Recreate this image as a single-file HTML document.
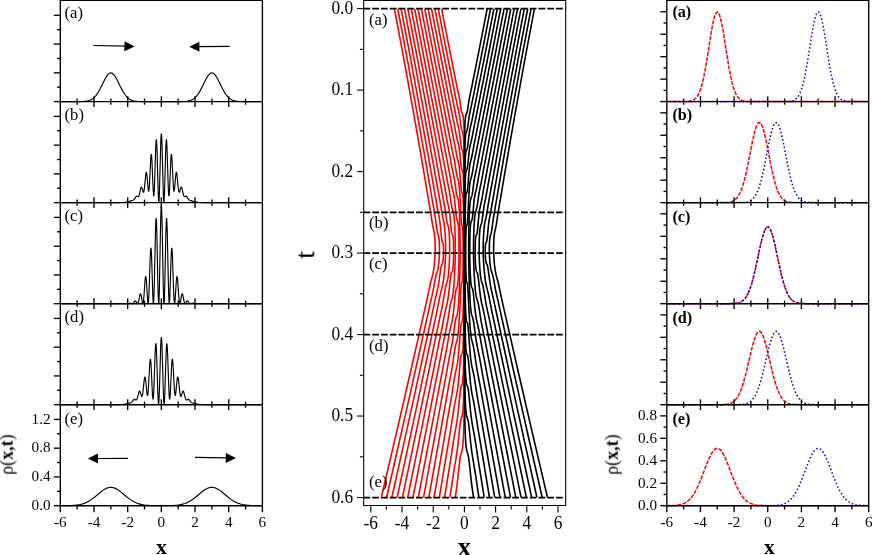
<!DOCTYPE html>
<html><head><meta charset="utf-8"><title>figure</title>
<style>html,body{margin:0;padding:0;background:#fff;}body{width:872px;height:555px;overflow:hidden;font-family:"Liberation Serif",serif;}svg{display:block;}</style>
</head><body>
<svg width="872" height="555" viewBox="0 0 872 555">
<rect width="872" height="555" fill="#fff"/>
<g clip-path="url(#cl)">
<path d="M60.3,101.6L78.24,101.58L81.52,101.53L83.96,101.42L86.32,101.18L88.26,100.81L89.94,100.28L91.54,99.52L93.14,98.44L94.66,97.06L96.09,95.4L97.52,93.37L98.78,91.28L100.05,88.96L105.01,78.99L106.11,77.08L107.04,75.68L108.05,74.44L108.97,73.6L109.9,73.09L110.4,72.95L110.82,72.92L111.33,72.97L111.84,73.12L112.34,73.38L112.93,73.8L114.02,74.91L115.12,76.41L116.05,77.93L117.14,79.95L120.93,87.64L122.61,90.83L124.38,93.75L126.07,96.03L126.99,97.06L127.92,97.95L128.85,98.69L129.86,99.37L130.87,99.91L131.96,100.37L133.14,100.74L134.4,101.03L135.92,101.26L137.6,101.42L142.32,101.57L180.38,101.57L184.09,101.48L186.7,101.27L188.89,100.91L190.74,100.37L192.51,99.56L193.35,99.05L194.19,98.44L195.71,97.06L197.22,95.29L198.74,93.1L200.34,90.38L201.85,87.47L205.56,79.95L206.65,77.93L207.58,76.41L208.68,74.91L209.77,73.8L210.36,73.38L210.86,73.12L211.37,72.97L211.88,72.92L212.3,72.95L212.8,73.09L213.73,73.6L214.65,74.44L215.66,75.68L216.59,77.08L217.69,78.99L222.65,88.96L223.92,91.28L225.18,93.37L226.61,95.4L228.04,97.06L229.56,98.44L231.16,99.52L232.76,100.28L234.44,100.81L236.38,101.18L238.74,101.42L241.18,101.53L244.46,101.58L262.4,101.6" fill="none" stroke="#000" stroke-width="1.15" stroke-linejoin="round" />
</g>
<g clip-path="url(#cl)">
<path d="M60.3,202.65L113.69,202.65L118.66,202.62L122.19,202.53L124.47,202.38L128.34,201.87L129.35,201.56L131.37,200.61L132.89,200.27L133.39,200.07L133.81,199.77L134.23,199.32L135.67,197.04L136.26,196.36L136.59,196.18L136.93,196.17L137.77,196.54L138.11,196.61L138.45,196.48L138.7,196.17L139.03,195.46L139.37,194.37L140.72,188.43L141.06,187.46L141.31,187.09L141.48,187.04L141.65,187.15L141.98,187.82L142.91,191.22L143.16,191.94L143.33,192.21L143.5,192.28L143.75,191.94L144.09,190.54L144.42,188.08L145.69,175L146.02,172.86L146.28,172.23L146.36,172.23L146.45,172.34L146.61,172.87L146.95,175.15L148.21,189.46L148.38,190.57L148.55,191.18L148.63,191.28L148.72,191.23L148.8,191.03L148.97,190.16L149.14,188.67L149.48,183.96L150.74,158.7L151.08,155.09L151.25,154.44L151.33,154.43L151.5,155.05L151.67,156.53L152,161.84L152.93,184.75L153.27,191.66L153.52,194.86L153.69,195.79L153.77,195.87L153.86,195.67L154.02,194.46L154.36,188.89L154.7,179.81L155.71,147.42L156.04,141.21L156.21,139.83L156.3,139.62L156.38,139.73L156.55,140.93L156.89,147.06L157.22,157.28L158.15,191.05L158.49,198.91L158.66,200.99L158.74,201.51L158.82,201.68L158.91,201.49L159.08,200.03L159.41,193.05L160.68,145.17L161.01,136.82L161.18,134.61L161.27,134.05L161.35,133.86L161.43,134.05L161.52,134.61L161.69,136.82L162.02,145.17L163.29,193.05L163.62,200.03L163.79,201.49L163.88,201.68L163.96,201.51L164.04,200.99L164.21,198.91L164.55,191.05L165.48,157.28L165.81,147.06L166.15,140.93L166.32,139.73L166.4,139.62L166.49,139.83L166.66,141.21L166.99,147.42L168,179.81L168.34,188.89L168.68,194.46L168.84,195.67L168.93,195.87L169.01,195.79L169.18,194.86L169.43,191.66L169.77,184.75L170.7,161.84L171.03,156.53L171.2,155.05L171.37,154.43L171.45,154.44L171.62,155.09L171.96,158.7L173.22,183.96L173.56,188.67L173.73,190.16L173.9,191.03L173.98,191.23L174.07,191.28L174.15,191.18L174.32,190.57L174.49,189.46L175.75,175.15L176.09,172.87L176.25,172.34L176.34,172.23L176.42,172.23L176.68,172.86L177.01,175L178.28,188.08L178.61,190.54L178.95,191.94L179.2,192.28L179.37,192.21L179.54,191.94L179.79,191.22L180.72,187.82L181.05,187.15L181.22,187.04L181.39,187.09L181.64,187.46L181.98,188.43L183.33,194.37L183.67,195.46L184,196.17L184.25,196.48L184.59,196.61L184.93,196.54L185.77,196.17L186.11,196.18L186.44,196.36L187.03,197.04L188.47,199.32L188.89,199.77L189.31,200.07L189.81,200.27L191.33,200.61L193.35,201.56L194.36,201.87L198.23,202.38L200.51,202.53L204.04,202.62L209.01,202.65L262.4,202.65" fill="none" stroke="#000" stroke-width="1.15" stroke-linejoin="round" />
</g>
<g clip-path="url(#cl)">
<path d="M60.3,303.7L121.77,303.7L124.8,303.61L126.99,303.7L127.92,303.61L129.44,303.2L130.02,303.13L130.61,303.2L131.79,303.62L132.3,303.7L132.72,303.59L133.14,303.3L133.56,302.81L134.66,301.3L134.99,301.03L135.25,300.95L135.5,301L135.83,301.28L136.17,301.76L137.1,303.39L137.35,303.64L137.6,303.69L137.86,303.51L138.02,303.23L138.36,302.31L138.78,300.53L139.79,295.33L140.13,294.18L140.3,293.86L140.47,293.73L140.63,293.8L140.72,293.92L141.06,294.91L141.39,296.6L142.32,302.35L142.57,303.33L142.74,303.65L142.82,303.7L142.99,303.54L143.08,303.33L143.25,302.64L143.58,300.14L144,295.21L145.01,280.86L145.35,277.75L145.52,276.89L145.69,276.55L145.77,276.59L145.94,277.09L146.28,279.74L146.61,284.24L147.54,299.49L147.88,302.89L148.05,303.62L148.13,303.7L148.3,303.26L148.47,301.99L148.8,296.98L149.22,286.71L150.23,256.88L150.57,250.56L150.74,248.83L150.91,248.18L150.99,248.28L151.16,249.33L151.5,254.7L151.83,263.72L152.84,296.28L153.18,302.39L153.35,303.6L153.43,303.69L153.6,302.79L153.69,301.8L154.02,294.34L154.44,278.31L155.46,231.64L155.79,221.96L155.96,219.36L156.13,218.43L156.21,218.61L156.3,219.23L156.47,221.74L156.8,231.46L157.81,280.2L158.15,293.95L158.49,302.13L158.66,303.62L158.74,303.66L158.91,302.31L159.08,299.11L159.41,287.6L160.42,232.51L160.76,217.04L161.1,207.54L161.27,205.56L161.35,205.31L161.43,205.56L161.6,207.54L161.94,217.04L162.28,232.51L163.29,287.6L163.62,299.11L163.79,302.31L163.96,303.66L164.04,303.62L164.21,302.13L164.55,293.95L164.89,280.2L165.9,231.46L166.23,221.74L166.4,219.23L166.49,218.61L166.57,218.43L166.74,219.36L166.91,221.96L167.24,231.64L168.26,278.31L168.68,294.34L169.01,301.8L169.1,302.79L169.27,303.69L169.35,303.6L169.52,302.39L169.86,296.28L170.87,263.72L171.2,254.7L171.54,249.33L171.71,248.28L171.79,248.18L171.96,248.83L172.13,250.56L172.47,256.88L173.48,286.71L173.9,296.98L174.23,301.99L174.4,303.26L174.57,303.7L174.65,303.62L174.82,302.89L175.16,299.49L176.09,284.24L176.42,279.74L176.76,277.09L176.93,276.59L177.01,276.55L177.18,276.89L177.35,277.75L177.69,280.86L178.7,295.21L179.12,300.14L179.45,302.64L179.62,303.33L179.71,303.54L179.88,303.7L179.96,303.65L180.13,303.33L180.38,302.35L181.31,296.6L181.64,294.91L181.98,293.92L182.07,293.8L182.23,293.73L182.4,293.86L182.57,294.18L182.91,295.33L183.92,300.53L184.34,302.31L184.68,303.23L184.84,303.51L185.1,303.69L185.35,303.64L185.6,303.39L186.53,301.76L186.87,301.28L187.2,301L187.45,300.95L187.71,301.03L188.04,301.3L189.14,302.81L189.56,303.3L189.98,303.59L190.4,303.7L190.91,303.62L192.09,303.2L192.68,303.13L193.26,303.2L194.78,303.61L195.71,303.7L197.9,303.61L200.93,303.7L262.4,303.7" fill="none" stroke="#000" stroke-width="1.15" stroke-linejoin="round" />
</g>
<g clip-path="url(#cl)">
<path d="M60.3,404.7L109.98,404.7L119.16,404.6L121.1,404.51L125.39,404.12L126.4,403.88L128.59,403.1L130.7,402.81L131.2,402.57L131.71,402.16L132.21,401.58L133.31,400.08L133.65,399.72L133.98,399.47L134.32,399.36L134.66,399.38L135.67,399.91L136,400.01L136.34,399.93L136.68,399.61L137.01,398.98L137.43,397.78L138.87,392.3L139.2,391.49L139.46,391.18L139.62,391.14L139.79,391.22L140.13,391.76L141.48,396.08L141.65,396.38L141.81,396.5L141.98,396.44L142.07,396.34L142.4,395.36L142.82,392.89L144,381.83L144.34,379.16L144.68,377.47L144.85,377.09L144.93,377.02L145.01,377.05L145.18,377.36L145.52,379.01L145.86,381.85L146.95,393.33L147.29,395.24L147.46,395.56L147.54,395.54L147.71,395.12L147.88,394.2L148.21,390.84L148.63,384.25L149.73,364.02L150.07,360.34L150.23,359.41L150.32,359.2L150.4,359.16L150.57,359.61L150.74,360.77L151.08,365.05L152.17,388.72L152.51,394.87L152.84,398.53L153.01,399.16L153.1,399.15L153.27,398.47L153.43,396.89L153.86,389.34L154.95,357.46L155.29,349.46L155.62,344.67L155.79,343.74L155.88,343.68L155.96,343.88L156.13,345.09L156.47,350.54L156.8,359.4L157.9,394.62L158.23,401.36L158.4,403.2L158.57,403.9L158.66,403.81L158.82,402.74L159.16,397.23L159.58,385.08L160.68,346.88L161.01,339.93L161.18,338.11L161.27,337.65L161.35,337.5L161.43,337.65L161.52,338.11L161.69,339.93L162.02,346.88L163.12,385.08L163.54,397.23L163.88,402.74L164.04,403.81L164.13,403.9L164.3,403.2L164.47,401.36L164.8,394.62L165.9,359.4L166.23,350.54L166.57,345.09L166.74,343.88L166.82,343.68L166.91,343.74L167.08,344.67L167.41,349.46L167.75,357.46L168.84,389.34L169.27,396.89L169.43,398.47L169.6,399.15L169.69,399.16L169.86,398.53L170.19,394.87L170.53,388.72L171.62,365.05L171.96,360.77L172.13,359.61L172.3,359.16L172.38,359.2L172.47,359.41L172.63,360.34L172.97,364.02L174.07,384.25L174.49,390.84L174.82,394.2L174.99,395.12L175.16,395.54L175.24,395.56L175.41,395.24L175.75,393.33L176.84,381.85L177.18,379.01L177.52,377.36L177.69,377.05L177.77,377.02L177.85,377.09L178.02,377.47L178.36,379.16L178.7,381.83L179.88,392.89L180.3,395.36L180.63,396.34L180.72,396.44L180.89,396.5L181.05,396.38L181.22,396.08L182.57,391.76L182.91,391.22L183.08,391.14L183.24,391.18L183.5,391.49L183.83,392.3L185.27,397.78L185.69,398.98L186.02,399.61L186.36,399.93L186.7,400.01L187.03,399.91L188.04,399.38L188.38,399.36L188.72,399.47L189.05,399.72L189.39,400.08L190.49,401.58L190.99,402.16L191.5,402.57L192,402.81L194.11,403.1L196.3,403.88L197.31,404.12L201.6,404.51L203.54,404.6L212.72,404.7L262.4,404.7" fill="none" stroke="#000" stroke-width="1.15" stroke-linejoin="round" />
</g>
<g clip-path="url(#cl)">
<path d="M60.3,505.69L69.39,505.57L72.59,505.43L75.29,505.22L77.82,504.91L80.09,504.5L82.19,503.98L84.22,503.33L85.98,502.61L87.75,501.76L89.52,500.75L91.29,499.61L94.49,497.21L101.31,491.56L102.91,490.38L104.43,489.39L106.11,488.48L107.71,487.84L109.31,487.46L110.82,487.34L112.42,487.47L114.11,487.9L115.79,488.6L117.56,489.59L119.08,490.62L120.68,491.83L126.57,496.73L129.01,498.64L131.54,500.38L134.07,501.85L136.51,502.97L139.12,503.88L141.9,504.58L144.76,505.04L149.98,505.5L156.97,505.68L165.14,505.69L171.2,505.55L174.15,505.4L178.02,505.03L180.3,504.68L182.57,504.16L184.93,503.44L187.03,502.62L189.14,501.58L191.33,500.28L193.18,499.01L195.12,497.54L202.7,491.31L204.38,490.09L205.9,489.14L207.5,488.33L209.01,487.77L210.53,487.43L211.96,487.34L213.47,487.47L214.99,487.84L216.59,488.48L218.27,489.39L219.79,490.38L221.39,491.56L228.21,497.21L231.41,499.61L233.18,500.75L234.95,501.76L236.72,502.61L238.48,503.33L240.51,503.98L242.61,504.5L244.88,504.91L247.41,505.22L250.11,505.43L253.31,505.57L262.4,505.69" fill="none" stroke="#000" stroke-width="1.15" stroke-linejoin="round" />
</g>
<defs><clipPath id="cl"><rect x="60.3" y="0" width="202.1" height="506.7"/></clipPath></defs>
<line x1="60.3" y1="0" x2="60.3" y2="506.38" stroke="#000" stroke-width="1.35" />
<line x1="262.4" y1="0" x2="262.4" y2="506.38" stroke="#000" stroke-width="1.35" />
<line x1="59.7" y1="0.45" x2="263" y2="0.45" stroke="#000" stroke-width="1.15" />
<line x1="60.3" y1="101.6" x2="262.4" y2="101.6" stroke="#000" stroke-width="1.35" />
<line x1="77.14" y1="98.5" x2="77.14" y2="104.7" stroke="#000" stroke-width="1.35" />
<line x1="93.98" y1="96.2" x2="93.98" y2="107" stroke="#000" stroke-width="1.35" />
<line x1="110.82" y1="98.5" x2="110.82" y2="104.7" stroke="#000" stroke-width="1.35" />
<line x1="127.67" y1="96.2" x2="127.67" y2="107" stroke="#000" stroke-width="1.35" />
<line x1="144.51" y1="98.5" x2="144.51" y2="104.7" stroke="#000" stroke-width="1.35" />
<line x1="161.35" y1="96.2" x2="161.35" y2="107" stroke="#000" stroke-width="1.35" />
<line x1="178.19" y1="98.5" x2="178.19" y2="104.7" stroke="#000" stroke-width="1.35" />
<line x1="195.03" y1="96.2" x2="195.03" y2="107" stroke="#000" stroke-width="1.35" />
<line x1="211.88" y1="98.5" x2="211.88" y2="104.7" stroke="#000" stroke-width="1.35" />
<line x1="228.72" y1="96.2" x2="228.72" y2="107" stroke="#000" stroke-width="1.35" />
<line x1="245.56" y1="98.5" x2="245.56" y2="104.7" stroke="#000" stroke-width="1.35" />
<line x1="53.8" y1="101.6" x2="60.3" y2="101.6" stroke="#000" stroke-width="1.35" />
<line x1="53.8" y1="72.84" x2="60.3" y2="72.84" stroke="#000" stroke-width="1.35" />
<line x1="53.8" y1="44.08" x2="60.3" y2="44.08" stroke="#000" stroke-width="1.35" />
<line x1="53.8" y1="15.32" x2="60.3" y2="15.32" stroke="#000" stroke-width="1.35" />
<line x1="57" y1="87.22" x2="60.3" y2="87.22" stroke="#000" stroke-width="1.35" />
<line x1="57" y1="58.46" x2="60.3" y2="58.46" stroke="#000" stroke-width="1.35" />
<line x1="57" y1="29.7" x2="60.3" y2="29.7" stroke="#000" stroke-width="1.35" />
<line x1="60.3" y1="202.65" x2="262.4" y2="202.65" stroke="#000" stroke-width="1.35" />
<line x1="77.14" y1="199.55" x2="77.14" y2="205.75" stroke="#000" stroke-width="1.35" />
<line x1="93.98" y1="197.25" x2="93.98" y2="208.05" stroke="#000" stroke-width="1.35" />
<line x1="110.82" y1="199.55" x2="110.82" y2="205.75" stroke="#000" stroke-width="1.35" />
<line x1="127.67" y1="197.25" x2="127.67" y2="208.05" stroke="#000" stroke-width="1.35" />
<line x1="144.51" y1="199.55" x2="144.51" y2="205.75" stroke="#000" stroke-width="1.35" />
<line x1="161.35" y1="197.25" x2="161.35" y2="208.05" stroke="#000" stroke-width="1.35" />
<line x1="178.19" y1="199.55" x2="178.19" y2="205.75" stroke="#000" stroke-width="1.35" />
<line x1="195.03" y1="197.25" x2="195.03" y2="208.05" stroke="#000" stroke-width="1.35" />
<line x1="211.88" y1="199.55" x2="211.88" y2="205.75" stroke="#000" stroke-width="1.35" />
<line x1="228.72" y1="197.25" x2="228.72" y2="208.05" stroke="#000" stroke-width="1.35" />
<line x1="245.56" y1="199.55" x2="245.56" y2="205.75" stroke="#000" stroke-width="1.35" />
<line x1="53.8" y1="202.65" x2="60.3" y2="202.65" stroke="#000" stroke-width="1.35" />
<line x1="53.8" y1="173.89" x2="60.3" y2="173.89" stroke="#000" stroke-width="1.35" />
<line x1="53.8" y1="145.13" x2="60.3" y2="145.13" stroke="#000" stroke-width="1.35" />
<line x1="53.8" y1="116.37" x2="60.3" y2="116.37" stroke="#000" stroke-width="1.35" />
<line x1="57" y1="188.27" x2="60.3" y2="188.27" stroke="#000" stroke-width="1.35" />
<line x1="57" y1="159.51" x2="60.3" y2="159.51" stroke="#000" stroke-width="1.35" />
<line x1="57" y1="130.75" x2="60.3" y2="130.75" stroke="#000" stroke-width="1.35" />
<line x1="60.3" y1="303.7" x2="262.4" y2="303.7" stroke="#000" stroke-width="1.35" />
<line x1="77.14" y1="300.6" x2="77.14" y2="306.8" stroke="#000" stroke-width="1.35" />
<line x1="93.98" y1="298.3" x2="93.98" y2="309.1" stroke="#000" stroke-width="1.35" />
<line x1="110.82" y1="300.6" x2="110.82" y2="306.8" stroke="#000" stroke-width="1.35" />
<line x1="127.67" y1="298.3" x2="127.67" y2="309.1" stroke="#000" stroke-width="1.35" />
<line x1="144.51" y1="300.6" x2="144.51" y2="306.8" stroke="#000" stroke-width="1.35" />
<line x1="161.35" y1="298.3" x2="161.35" y2="309.1" stroke="#000" stroke-width="1.35" />
<line x1="178.19" y1="300.6" x2="178.19" y2="306.8" stroke="#000" stroke-width="1.35" />
<line x1="195.03" y1="298.3" x2="195.03" y2="309.1" stroke="#000" stroke-width="1.35" />
<line x1="211.88" y1="300.6" x2="211.88" y2="306.8" stroke="#000" stroke-width="1.35" />
<line x1="228.72" y1="298.3" x2="228.72" y2="309.1" stroke="#000" stroke-width="1.35" />
<line x1="245.56" y1="300.6" x2="245.56" y2="306.8" stroke="#000" stroke-width="1.35" />
<line x1="53.8" y1="303.7" x2="60.3" y2="303.7" stroke="#000" stroke-width="1.35" />
<line x1="53.8" y1="274.94" x2="60.3" y2="274.94" stroke="#000" stroke-width="1.35" />
<line x1="53.8" y1="246.18" x2="60.3" y2="246.18" stroke="#000" stroke-width="1.35" />
<line x1="53.8" y1="217.42" x2="60.3" y2="217.42" stroke="#000" stroke-width="1.35" />
<line x1="57" y1="289.32" x2="60.3" y2="289.32" stroke="#000" stroke-width="1.35" />
<line x1="57" y1="260.56" x2="60.3" y2="260.56" stroke="#000" stroke-width="1.35" />
<line x1="57" y1="231.8" x2="60.3" y2="231.8" stroke="#000" stroke-width="1.35" />
<line x1="60.3" y1="404.7" x2="262.4" y2="404.7" stroke="#000" stroke-width="1.35" />
<line x1="77.14" y1="401.6" x2="77.14" y2="407.8" stroke="#000" stroke-width="1.35" />
<line x1="93.98" y1="399.3" x2="93.98" y2="410.1" stroke="#000" stroke-width="1.35" />
<line x1="110.82" y1="401.6" x2="110.82" y2="407.8" stroke="#000" stroke-width="1.35" />
<line x1="127.67" y1="399.3" x2="127.67" y2="410.1" stroke="#000" stroke-width="1.35" />
<line x1="144.51" y1="401.6" x2="144.51" y2="407.8" stroke="#000" stroke-width="1.35" />
<line x1="161.35" y1="399.3" x2="161.35" y2="410.1" stroke="#000" stroke-width="1.35" />
<line x1="178.19" y1="401.6" x2="178.19" y2="407.8" stroke="#000" stroke-width="1.35" />
<line x1="195.03" y1="399.3" x2="195.03" y2="410.1" stroke="#000" stroke-width="1.35" />
<line x1="211.88" y1="401.6" x2="211.88" y2="407.8" stroke="#000" stroke-width="1.35" />
<line x1="228.72" y1="399.3" x2="228.72" y2="410.1" stroke="#000" stroke-width="1.35" />
<line x1="245.56" y1="401.6" x2="245.56" y2="407.8" stroke="#000" stroke-width="1.35" />
<line x1="53.8" y1="404.7" x2="60.3" y2="404.7" stroke="#000" stroke-width="1.35" />
<line x1="53.8" y1="375.94" x2="60.3" y2="375.94" stroke="#000" stroke-width="1.35" />
<line x1="53.8" y1="347.18" x2="60.3" y2="347.18" stroke="#000" stroke-width="1.35" />
<line x1="53.8" y1="318.42" x2="60.3" y2="318.42" stroke="#000" stroke-width="1.35" />
<line x1="57" y1="390.32" x2="60.3" y2="390.32" stroke="#000" stroke-width="1.35" />
<line x1="57" y1="361.56" x2="60.3" y2="361.56" stroke="#000" stroke-width="1.35" />
<line x1="57" y1="332.8" x2="60.3" y2="332.8" stroke="#000" stroke-width="1.35" />
<line x1="60.3" y1="505.7" x2="262.4" y2="505.7" stroke="#000" stroke-width="1.35" />
<line x1="60.3" y1="505.7" x2="60.3" y2="512.2" stroke="#000" stroke-width="1.35" />
<line x1="77.14" y1="505.7" x2="77.14" y2="509.5" stroke="#000" stroke-width="1.35" />
<line x1="93.98" y1="505.7" x2="93.98" y2="512.2" stroke="#000" stroke-width="1.35" />
<line x1="110.82" y1="505.7" x2="110.82" y2="509.5" stroke="#000" stroke-width="1.35" />
<line x1="127.67" y1="505.7" x2="127.67" y2="512.2" stroke="#000" stroke-width="1.35" />
<line x1="144.51" y1="505.7" x2="144.51" y2="509.5" stroke="#000" stroke-width="1.35" />
<line x1="161.35" y1="505.7" x2="161.35" y2="512.2" stroke="#000" stroke-width="1.35" />
<line x1="178.19" y1="505.7" x2="178.19" y2="509.5" stroke="#000" stroke-width="1.35" />
<line x1="195.03" y1="505.7" x2="195.03" y2="512.2" stroke="#000" stroke-width="1.35" />
<line x1="211.88" y1="505.7" x2="211.88" y2="509.5" stroke="#000" stroke-width="1.35" />
<line x1="228.72" y1="505.7" x2="228.72" y2="512.2" stroke="#000" stroke-width="1.35" />
<line x1="245.56" y1="505.7" x2="245.56" y2="509.5" stroke="#000" stroke-width="1.35" />
<line x1="262.4" y1="505.7" x2="262.4" y2="512.2" stroke="#000" stroke-width="1.35" />
<line x1="53.8" y1="505.7" x2="60.3" y2="505.7" stroke="#000" stroke-width="1.35" />
<line x1="53.8" y1="476.94" x2="60.3" y2="476.94" stroke="#000" stroke-width="1.35" />
<line x1="53.8" y1="448.18" x2="60.3" y2="448.18" stroke="#000" stroke-width="1.35" />
<line x1="53.8" y1="419.42" x2="60.3" y2="419.42" stroke="#000" stroke-width="1.35" />
<line x1="57" y1="491.32" x2="60.3" y2="491.32" stroke="#000" stroke-width="1.35" />
<line x1="57" y1="462.56" x2="60.3" y2="462.56" stroke="#000" stroke-width="1.35" />
<line x1="57" y1="433.8" x2="60.3" y2="433.8" stroke="#000" stroke-width="1.35" />
<line x1="93.3" y1="45.5" x2="125.4" y2="46.2" stroke="#000" stroke-width="1.2" />
<polygon points="134.6,46.4 124.29,51.18 124.51,41.18" fill="#000"/>
<line x1="229.7" y1="46.4" x2="198.4" y2="46.71" stroke="#000" stroke-width="1.2" />
<polygon points="189.2,46.8 199.35,41.7 199.45,51.7" fill="#000"/>
<line x1="128" y1="458.4" x2="97" y2="458.48" stroke="#000" stroke-width="1.2" />
<polygon points="87.8,458.5 97.99,453.47 98.01,463.47" fill="#000"/>
<line x1="195" y1="457.3" x2="226.8" y2="457.92" stroke="#000" stroke-width="1.2" />
<polygon points="236,458.1 225.7,462.9 225.9,452.9" fill="#000"/>
<defs><clipPath id="cr"><rect x="666.8" y="0" width="201.9" height="506.7"/></clipPath></defs>
<g clip-path="url(#cr)">
<path d="M666.8,101.6L684.72,101.55L688,101.39L690.44,101.05L691.7,100.72L692.79,100.3L693.8,99.77L694.73,99.13L695.57,98.39L696.41,97.46L697.25,96.32L698.01,95.09L698.85,93.46L699.61,91.72L700.37,89.71L701.12,87.42L702.55,82.22L703.98,75.88L705.25,69.37L706.51,62.1L710.29,38.11L711.47,30.98L712.56,25L713.49,20.63L714.5,16.75L715,15.2L715.42,14.14L715.93,13.14L716.35,12.54L716.85,12.11L717.27,12L717.78,12.16L718.28,12.64L718.79,13.44L719.38,14.75L719.88,16.2L720.47,18.24L721.57,22.92L722.49,27.67L723.58,33.96L727.37,57.99L729.05,67.97L730.82,77.08L731.66,80.83L732.5,84.18L733.43,87.42L734.35,90.18L735.28,92.52L736.29,94.63L737.3,96.32L738.39,97.76L739.57,98.92L740.83,99.82L741.67,100.26L742.6,100.63L743.61,100.93L744.7,101.16L747.31,101.45L751.01,101.57L868.7,101.6" fill="none" stroke="#ff0000" stroke-width="1.5" stroke-linejoin="round" stroke-dasharray="4 1.3"/>
<path d="M666.8,101.6L784.49,101.57L788.19,101.45L790.8,101.16L791.89,100.93L792.9,100.63L793.83,100.26L794.67,99.82L795.93,98.92L797.11,97.76L798.2,96.32L799.21,94.63L800.22,92.52L801.15,90.18L802.07,87.42L803,84.18L803.84,80.83L804.68,77.08L806.45,67.97L808.13,57.99L811.92,33.96L813.01,27.67L813.93,22.92L815.03,18.24L815.62,16.2L816.12,14.75L816.71,13.44L817.22,12.64L817.72,12.16L818.23,12L818.65,12.11L819.15,12.54L819.57,13.14L820.08,14.14L820.5,15.2L821,16.75L822.01,20.63L822.94,25L824.03,30.98L825.21,38.11L828.99,62.1L830.25,69.37L831.52,75.88L832.95,82.22L834.38,87.42L835.13,89.71L835.89,91.72L836.65,93.46L837.49,95.09L838.25,96.32L839.09,97.46L839.93,98.39L840.77,99.13L841.7,99.77L842.71,100.3L843.8,100.72L845.06,101.05L847.5,101.39L850.78,101.55L868.7,101.6" fill="none" stroke="#0000ff" stroke-width="1.5" stroke-linejoin="round" stroke-dasharray="1.6 2.2"/>
<path d="M666.8,202.65L717.7,202.65L725.44,202.53L728.8,202.24L730.15,202L731.41,201.67L732.59,201.25L733.6,200.76L734.52,200.18L735.45,199.47L736.54,198.4L737.55,197.17L738.47,195.8L739.4,194.18L740.33,192.26L741.17,190.25L742.01,187.97L742.85,185.41L743.69,182.57L744.62,179.11L746.38,171.61L748.15,163.15L752.27,142.21L753.45,136.77L754.54,132.27L755.8,127.97L756.39,126.34L756.98,124.98L757.57,123.91L758.16,123.13L758.75,122.66L759.34,122.51L759.93,122.66L760.52,123.13L761.1,123.91L761.69,124.98L762.28,126.34L762.87,127.97L764.13,132.27L765.23,136.77L766.4,142.21L770.61,163.57L772.38,171.99L774.23,179.76L775.15,183.16L775.99,185.95L776.92,188.68L777.85,191.09L778.77,193.17L779.7,194.95L780.71,196.58L781.71,197.92L782.81,199.09L783.9,200L784.83,200.61L785.84,201.14L786.85,201.54L788.02,201.88L789.29,202.15L790.72,202.34L794.33,202.57L802.49,202.65L868.7,202.65" fill="none" stroke="#ff0000" stroke-width="1.5" stroke-linejoin="round" stroke-dasharray="4 1.3"/>
<path d="M666.8,202.65L733.01,202.65L741.17,202.57L744.78,202.34L746.21,202.15L747.48,201.88L748.65,201.54L749.66,201.14L750.67,200.61L751.6,200L752.69,199.09L753.79,197.92L754.79,196.58L755.8,194.95L756.73,193.17L757.65,191.09L758.58,188.68L759.51,185.95L760.35,183.16L761.27,179.76L763.12,171.99L764.89,163.57L769.1,142.21L770.27,136.77L771.37,132.27L772.63,127.97L773.22,126.34L773.81,124.98L774.4,123.91L774.98,123.13L775.57,122.66L776.16,122.51L776.75,122.66L777.34,123.13L777.93,123.91L778.52,124.98L779.11,126.34L779.7,127.97L780.96,132.27L782.05,136.77L783.23,142.21L787.35,163.15L789.12,171.61L790.88,179.11L791.81,182.57L792.65,185.41L793.49,187.97L794.33,190.25L795.17,192.26L796.1,194.18L797.03,195.8L797.95,197.17L798.96,198.4L800.05,199.47L800.98,200.18L801.9,200.76L802.91,201.25L804.09,201.67L805.35,202L806.7,202.24L810.06,202.53L817.8,202.65L868.7,202.65" fill="none" stroke="#0000ff" stroke-width="1.5" stroke-linejoin="round" stroke-dasharray="1.6 2.2"/>
<path d="M666.8,303.7L723.84,303.7L732.08,303.6L735.7,303.33L737.13,303.11L738.39,302.83L739.57,302.46L740.66,302L741.67,301.46L742.68,300.76L743.77,299.82L744.87,298.64L745.88,297.3L746.8,295.84L747.73,294.13L748.65,292.14L749.58,289.88L750.5,287.31L751.43,284.44L752.36,281.27L754.21,274.07L756.06,265.94L760.43,245.53L761.69,240.2L762.79,236.1L764.05,232.15L764.72,230.44L765.31,229.21L765.98,228.1L766.57,227.42L767.16,227L767.75,226.87L768.34,227L768.93,227.42L769.52,228.1L770.19,229.21L770.78,230.44L771.45,232.15L772.71,236.1L773.81,240.2L775.07,245.53L779.44,265.94L781.29,274.07L783.14,281.27L784.07,284.44L785,287.31L785.92,289.88L786.85,292.14L787.77,294.13L788.7,295.84L789.62,297.3L790.63,298.64L791.73,299.82L792.82,300.76L793.83,301.46L794.84,302L795.93,302.46L797.11,302.83L798.37,303.11L799.8,303.33L803.42,303.6L811.66,303.7L868.7,303.7" fill="none" stroke="#ff0000" stroke-width="1.5" stroke-linejoin="round" stroke-dasharray="4 1.3"/>
<path d="M666.8,303.7L723.84,303.7L732.08,303.6L735.7,303.33L737.13,303.11L738.39,302.83L739.57,302.46L740.66,302L741.67,301.46L742.68,300.76L743.77,299.82L744.87,298.64L745.88,297.3L746.8,295.84L747.73,294.13L748.65,292.14L749.58,289.88L750.5,287.31L751.43,284.44L752.36,281.27L754.21,274.07L756.06,265.94L760.43,245.53L761.69,240.2L762.79,236.1L764.05,232.15L764.72,230.44L765.31,229.21L765.98,228.1L766.57,227.42L767.16,227L767.75,226.87L768.34,227L768.93,227.42L769.52,228.1L770.19,229.21L770.78,230.44L771.45,232.15L772.71,236.1L773.81,240.2L775.07,245.53L779.44,265.94L781.29,274.07L783.14,281.27L784.07,284.44L785,287.31L785.92,289.88L786.85,292.14L787.77,294.13L788.7,295.84L789.62,297.3L790.63,298.64L791.73,299.82L792.82,300.76L793.83,301.46L794.84,302L795.93,302.46L797.11,302.83L798.37,303.11L799.8,303.33L803.42,303.6L811.66,303.7L868.7,303.7" fill="none" stroke="#0000ff" stroke-width="1.5" stroke-linejoin="round" stroke-dasharray="1.6 2.2"/>
<path d="M666.8,404.7L714.75,404.69L719.71,404.66L723,404.56L726.53,404.25L727.96,404.01L729.3,403.68L730.57,403.25L731.66,402.76L732.67,402.18L733.68,401.46L734.77,400.5L735.78,399.41L736.79,398.11L737.8,396.56L738.73,394.91L739.65,393.01L740.58,390.86L741.5,388.45L742.43,385.78L743.35,382.84L745.2,376.23L747.14,368.45L751.68,349.1L752.94,344.23L754.12,340.18L755.47,336.33L756.14,334.77L756.81,333.48L757.49,332.48L758.08,331.85L758.75,331.42L759.34,331.29L759.93,331.42L760.6,331.85L761.19,332.48L761.86,333.48L762.53,334.77L763.21,336.33L764.55,340.18L765.73,344.23L766.99,349.1L771.62,368.8L773.55,376.55L775.49,383.39L776.5,386.54L777.42,389.14L778.35,391.48L779.36,393.73L780.28,395.53L781.29,397.24L782.3,398.68L783.4,399.98L784.58,401.12L785.75,402.02L786.76,402.63L787.86,403.15L788.95,403.55L790.21,403.9L791.56,404.17L793.07,404.37L796.94,404.61L805.61,404.7L868.7,404.7" fill="none" stroke="#ff0000" stroke-width="1.5" stroke-linejoin="round" stroke-dasharray="4 1.3"/>
<path d="M666.8,404.7L729.89,404.7L738.56,404.61L742.43,404.37L743.94,404.17L745.29,403.9L746.55,403.55L747.64,403.15L748.74,402.63L749.75,402.02L750.92,401.12L752.1,399.98L753.2,398.68L754.21,397.24L755.22,395.53L756.14,393.73L757.15,391.48L758.08,389.14L759,386.54L760.01,383.39L761.95,376.55L763.88,368.8L768.51,349.1L769.77,344.23L770.95,340.18L772.29,336.33L772.97,334.77L773.64,333.48L774.31,332.48L774.9,331.85L775.57,331.42L776.16,331.29L776.75,331.42L777.42,331.85L778.01,332.48L778.69,333.48L779.36,334.77L780.03,336.33L781.38,340.18L782.56,344.23L783.82,349.1L788.36,368.45L790.3,376.23L792.15,382.84L793.07,385.78L794,388.45L794.92,390.86L795.85,393.01L796.77,394.91L797.7,396.56L798.71,398.11L799.72,399.41L800.73,400.5L801.82,401.46L802.83,402.18L803.84,402.76L804.93,403.25L806.2,403.68L807.54,404.01L808.97,404.25L812.5,404.56L815.79,404.66L820.75,404.69L868.7,404.7" fill="none" stroke="#0000ff" stroke-width="1.5" stroke-linejoin="round" stroke-dasharray="1.6 2.2"/>
<path d="M666.8,505.66L672.02,505.55L675.89,505.3L679.08,504.86L681.77,504.21L683.04,503.77L684.3,503.24L685.48,502.63L686.57,501.96L687.66,501.17L688.67,500.33L689.68,499.37L690.69,498.29L692.46,496.06L694.22,493.38L695.99,490.25L697.76,486.66L699.27,483.26L700.95,479.17L706.09,465.78L707.77,461.54L709.37,457.84L710.88,454.74L711.72,453.24L712.56,451.91L713.41,450.77L714.16,449.92L715,449.19L715.76,448.72L716.52,448.43L717.27,448.34L718.03,448.43L718.87,448.76L719.71,449.32L720.56,450.1L721.4,451.09L722.24,452.29L723.08,453.67L724,455.39L725.52,458.59L727.12,462.37L733.01,477.68L735.45,483.65L736.79,486.66L738.05,489.27L739.32,491.65L740.49,493.66L741.76,495.58L743.02,497.28L744.28,498.76L745.63,500.1L747.06,501.3L748.49,502.28L750,503.12L751.6,503.81L752.86,504.23L754.29,504.61L755.8,504.92L757.4,505.16L761.1,505.48L766.15,505.64L777.51,505.7L868.7,505.7" fill="none" stroke="#ff0000" stroke-width="1.5" stroke-linejoin="round" stroke-dasharray="4 1.3"/>
<path d="M666.8,505.7L757.99,505.7L769.35,505.64L774.4,505.48L778.1,505.16L779.7,504.92L781.21,504.61L782.64,504.23L783.9,503.81L785.5,503.12L787.01,502.28L788.44,501.3L789.87,500.1L791.22,498.76L792.48,497.28L793.74,495.58L795.01,493.66L796.18,491.65L797.45,489.27L798.71,486.66L800.05,483.65L802.49,477.68L808.38,462.37L809.98,458.59L811.5,455.39L812.42,453.67L813.26,452.29L814.1,451.09L814.94,450.1L815.79,449.32L816.63,448.76L817.47,448.43L818.23,448.34L818.98,448.43L819.74,448.72L820.5,449.19L821.34,449.92L822.09,450.77L822.94,451.91L823.78,453.24L824.62,454.74L826.13,457.84L827.73,461.54L829.41,465.78L834.55,479.17L836.23,483.26L837.74,486.66L839.51,490.25L841.28,493.38L843.04,496.06L844.81,498.29L845.82,499.37L846.83,500.33L847.84,501.17L848.93,501.96L850.02,502.63L851.2,503.24L852.46,503.77L853.73,504.21L856.42,504.86L859.61,505.3L863.48,505.55L868.7,505.66" fill="none" stroke="#0000ff" stroke-width="1.5" stroke-linejoin="round" stroke-dasharray="1.6 2.2"/>
</g>
<line x1="666.8" y1="0" x2="666.8" y2="506.38" stroke="#000" stroke-width="1.35" />
<line x1="868.7" y1="0" x2="868.7" y2="506.38" stroke="#000" stroke-width="1.35" />
<line x1="666.2" y1="0.45" x2="869.3" y2="0.45" stroke="#000" stroke-width="1.15" />
<line x1="666.8" y1="101.6" x2="868.7" y2="101.6" stroke="#000" stroke-width="1.35" />
<line x1="683.62" y1="98.5" x2="683.62" y2="104.7" stroke="#000" stroke-width="1.35" />
<line x1="700.45" y1="96.2" x2="700.45" y2="107" stroke="#000" stroke-width="1.35" />
<line x1="717.27" y1="98.5" x2="717.27" y2="104.7" stroke="#000" stroke-width="1.35" />
<line x1="734.1" y1="96.2" x2="734.1" y2="107" stroke="#000" stroke-width="1.35" />
<line x1="750.92" y1="98.5" x2="750.92" y2="104.7" stroke="#000" stroke-width="1.35" />
<line x1="767.75" y1="96.2" x2="767.75" y2="107" stroke="#000" stroke-width="1.35" />
<line x1="784.58" y1="98.5" x2="784.58" y2="104.7" stroke="#000" stroke-width="1.35" />
<line x1="801.4" y1="96.2" x2="801.4" y2="107" stroke="#000" stroke-width="1.35" />
<line x1="818.23" y1="98.5" x2="818.23" y2="104.7" stroke="#000" stroke-width="1.35" />
<line x1="835.05" y1="96.2" x2="835.05" y2="107" stroke="#000" stroke-width="1.35" />
<line x1="851.88" y1="98.5" x2="851.88" y2="104.7" stroke="#000" stroke-width="1.35" />
<line x1="660.3" y1="101.6" x2="666.8" y2="101.6" stroke="#000" stroke-width="1.35" />
<line x1="660.3" y1="79.14" x2="666.8" y2="79.14" stroke="#000" stroke-width="1.35" />
<line x1="660.3" y1="56.68" x2="666.8" y2="56.68" stroke="#000" stroke-width="1.35" />
<line x1="660.3" y1="34.22" x2="666.8" y2="34.22" stroke="#000" stroke-width="1.35" />
<line x1="660.3" y1="11.76" x2="666.8" y2="11.76" stroke="#000" stroke-width="1.35" />
<line x1="663.5" y1="90.37" x2="666.8" y2="90.37" stroke="#000" stroke-width="1.35" />
<line x1="663.5" y1="67.91" x2="666.8" y2="67.91" stroke="#000" stroke-width="1.35" />
<line x1="663.5" y1="45.45" x2="666.8" y2="45.45" stroke="#000" stroke-width="1.35" />
<line x1="663.5" y1="22.99" x2="666.8" y2="22.99" stroke="#000" stroke-width="1.35" />
<line x1="666.8" y1="202.65" x2="868.7" y2="202.65" stroke="#000" stroke-width="1.35" />
<line x1="683.62" y1="199.55" x2="683.62" y2="205.75" stroke="#000" stroke-width="1.35" />
<line x1="700.45" y1="197.25" x2="700.45" y2="208.05" stroke="#000" stroke-width="1.35" />
<line x1="717.27" y1="199.55" x2="717.27" y2="205.75" stroke="#000" stroke-width="1.35" />
<line x1="734.1" y1="197.25" x2="734.1" y2="208.05" stroke="#000" stroke-width="1.35" />
<line x1="750.92" y1="199.55" x2="750.92" y2="205.75" stroke="#000" stroke-width="1.35" />
<line x1="767.75" y1="197.25" x2="767.75" y2="208.05" stroke="#000" stroke-width="1.35" />
<line x1="784.58" y1="199.55" x2="784.58" y2="205.75" stroke="#000" stroke-width="1.35" />
<line x1="801.4" y1="197.25" x2="801.4" y2="208.05" stroke="#000" stroke-width="1.35" />
<line x1="818.23" y1="199.55" x2="818.23" y2="205.75" stroke="#000" stroke-width="1.35" />
<line x1="835.05" y1="197.25" x2="835.05" y2="208.05" stroke="#000" stroke-width="1.35" />
<line x1="851.88" y1="199.55" x2="851.88" y2="205.75" stroke="#000" stroke-width="1.35" />
<line x1="660.3" y1="202.65" x2="666.8" y2="202.65" stroke="#000" stroke-width="1.35" />
<line x1="660.3" y1="180.19" x2="666.8" y2="180.19" stroke="#000" stroke-width="1.35" />
<line x1="660.3" y1="157.73" x2="666.8" y2="157.73" stroke="#000" stroke-width="1.35" />
<line x1="660.3" y1="135.27" x2="666.8" y2="135.27" stroke="#000" stroke-width="1.35" />
<line x1="660.3" y1="112.81" x2="666.8" y2="112.81" stroke="#000" stroke-width="1.35" />
<line x1="663.5" y1="191.42" x2="666.8" y2="191.42" stroke="#000" stroke-width="1.35" />
<line x1="663.5" y1="168.96" x2="666.8" y2="168.96" stroke="#000" stroke-width="1.35" />
<line x1="663.5" y1="146.5" x2="666.8" y2="146.5" stroke="#000" stroke-width="1.35" />
<line x1="663.5" y1="124.04" x2="666.8" y2="124.04" stroke="#000" stroke-width="1.35" />
<line x1="666.8" y1="303.7" x2="868.7" y2="303.7" stroke="#000" stroke-width="1.35" />
<line x1="683.62" y1="300.6" x2="683.62" y2="306.8" stroke="#000" stroke-width="1.35" />
<line x1="700.45" y1="298.3" x2="700.45" y2="309.1" stroke="#000" stroke-width="1.35" />
<line x1="717.27" y1="300.6" x2="717.27" y2="306.8" stroke="#000" stroke-width="1.35" />
<line x1="734.1" y1="298.3" x2="734.1" y2="309.1" stroke="#000" stroke-width="1.35" />
<line x1="750.92" y1="300.6" x2="750.92" y2="306.8" stroke="#000" stroke-width="1.35" />
<line x1="767.75" y1="298.3" x2="767.75" y2="309.1" stroke="#000" stroke-width="1.35" />
<line x1="784.58" y1="300.6" x2="784.58" y2="306.8" stroke="#000" stroke-width="1.35" />
<line x1="801.4" y1="298.3" x2="801.4" y2="309.1" stroke="#000" stroke-width="1.35" />
<line x1="818.23" y1="300.6" x2="818.23" y2="306.8" stroke="#000" stroke-width="1.35" />
<line x1="835.05" y1="298.3" x2="835.05" y2="309.1" stroke="#000" stroke-width="1.35" />
<line x1="851.88" y1="300.6" x2="851.88" y2="306.8" stroke="#000" stroke-width="1.35" />
<line x1="660.3" y1="303.7" x2="666.8" y2="303.7" stroke="#000" stroke-width="1.35" />
<line x1="660.3" y1="281.24" x2="666.8" y2="281.24" stroke="#000" stroke-width="1.35" />
<line x1="660.3" y1="258.78" x2="666.8" y2="258.78" stroke="#000" stroke-width="1.35" />
<line x1="660.3" y1="236.32" x2="666.8" y2="236.32" stroke="#000" stroke-width="1.35" />
<line x1="660.3" y1="213.86" x2="666.8" y2="213.86" stroke="#000" stroke-width="1.35" />
<line x1="663.5" y1="292.47" x2="666.8" y2="292.47" stroke="#000" stroke-width="1.35" />
<line x1="663.5" y1="270.01" x2="666.8" y2="270.01" stroke="#000" stroke-width="1.35" />
<line x1="663.5" y1="247.55" x2="666.8" y2="247.55" stroke="#000" stroke-width="1.35" />
<line x1="663.5" y1="225.09" x2="666.8" y2="225.09" stroke="#000" stroke-width="1.35" />
<line x1="666.8" y1="404.7" x2="868.7" y2="404.7" stroke="#000" stroke-width="1.35" />
<line x1="683.62" y1="401.6" x2="683.62" y2="407.8" stroke="#000" stroke-width="1.35" />
<line x1="700.45" y1="399.3" x2="700.45" y2="410.1" stroke="#000" stroke-width="1.35" />
<line x1="717.27" y1="401.6" x2="717.27" y2="407.8" stroke="#000" stroke-width="1.35" />
<line x1="734.1" y1="399.3" x2="734.1" y2="410.1" stroke="#000" stroke-width="1.35" />
<line x1="750.92" y1="401.6" x2="750.92" y2="407.8" stroke="#000" stroke-width="1.35" />
<line x1="767.75" y1="399.3" x2="767.75" y2="410.1" stroke="#000" stroke-width="1.35" />
<line x1="784.58" y1="401.6" x2="784.58" y2="407.8" stroke="#000" stroke-width="1.35" />
<line x1="801.4" y1="399.3" x2="801.4" y2="410.1" stroke="#000" stroke-width="1.35" />
<line x1="818.23" y1="401.6" x2="818.23" y2="407.8" stroke="#000" stroke-width="1.35" />
<line x1="835.05" y1="399.3" x2="835.05" y2="410.1" stroke="#000" stroke-width="1.35" />
<line x1="851.88" y1="401.6" x2="851.88" y2="407.8" stroke="#000" stroke-width="1.35" />
<line x1="660.3" y1="404.7" x2="666.8" y2="404.7" stroke="#000" stroke-width="1.35" />
<line x1="660.3" y1="382.24" x2="666.8" y2="382.24" stroke="#000" stroke-width="1.35" />
<line x1="660.3" y1="359.78" x2="666.8" y2="359.78" stroke="#000" stroke-width="1.35" />
<line x1="660.3" y1="337.32" x2="666.8" y2="337.32" stroke="#000" stroke-width="1.35" />
<line x1="660.3" y1="314.86" x2="666.8" y2="314.86" stroke="#000" stroke-width="1.35" />
<line x1="663.5" y1="393.47" x2="666.8" y2="393.47" stroke="#000" stroke-width="1.35" />
<line x1="663.5" y1="371.01" x2="666.8" y2="371.01" stroke="#000" stroke-width="1.35" />
<line x1="663.5" y1="348.55" x2="666.8" y2="348.55" stroke="#000" stroke-width="1.35" />
<line x1="663.5" y1="326.09" x2="666.8" y2="326.09" stroke="#000" stroke-width="1.35" />
<line x1="666.8" y1="505.7" x2="868.7" y2="505.7" stroke="#000" stroke-width="1.35" />
<line x1="666.8" y1="505.7" x2="666.8" y2="512.2" stroke="#000" stroke-width="1.35" />
<line x1="683.62" y1="505.7" x2="683.62" y2="509.5" stroke="#000" stroke-width="1.35" />
<line x1="700.45" y1="505.7" x2="700.45" y2="512.2" stroke="#000" stroke-width="1.35" />
<line x1="717.27" y1="505.7" x2="717.27" y2="509.5" stroke="#000" stroke-width="1.35" />
<line x1="734.1" y1="505.7" x2="734.1" y2="512.2" stroke="#000" stroke-width="1.35" />
<line x1="750.92" y1="505.7" x2="750.92" y2="509.5" stroke="#000" stroke-width="1.35" />
<line x1="767.75" y1="505.7" x2="767.75" y2="512.2" stroke="#000" stroke-width="1.35" />
<line x1="784.58" y1="505.7" x2="784.58" y2="509.5" stroke="#000" stroke-width="1.35" />
<line x1="801.4" y1="505.7" x2="801.4" y2="512.2" stroke="#000" stroke-width="1.35" />
<line x1="818.23" y1="505.7" x2="818.23" y2="509.5" stroke="#000" stroke-width="1.35" />
<line x1="835.05" y1="505.7" x2="835.05" y2="512.2" stroke="#000" stroke-width="1.35" />
<line x1="851.88" y1="505.7" x2="851.88" y2="509.5" stroke="#000" stroke-width="1.35" />
<line x1="868.7" y1="505.7" x2="868.7" y2="512.2" stroke="#000" stroke-width="1.35" />
<line x1="660.3" y1="505.7" x2="666.8" y2="505.7" stroke="#000" stroke-width="1.35" />
<line x1="660.3" y1="483.24" x2="666.8" y2="483.24" stroke="#000" stroke-width="1.35" />
<line x1="660.3" y1="460.78" x2="666.8" y2="460.78" stroke="#000" stroke-width="1.35" />
<line x1="660.3" y1="438.32" x2="666.8" y2="438.32" stroke="#000" stroke-width="1.35" />
<line x1="660.3" y1="415.86" x2="666.8" y2="415.86" stroke="#000" stroke-width="1.35" />
<line x1="663.5" y1="494.47" x2="666.8" y2="494.47" stroke="#000" stroke-width="1.35" />
<line x1="663.5" y1="472.01" x2="666.8" y2="472.01" stroke="#000" stroke-width="1.35" />
<line x1="663.5" y1="449.55" x2="666.8" y2="449.55" stroke="#000" stroke-width="1.35" />
<line x1="663.5" y1="427.09" x2="666.8" y2="427.09" stroke="#000" stroke-width="1.35" />
<defs><clipPath id="cm"><rect x="363.7" y="8.6" width="202" height="488.94"/></clipPath></defs>
<g clip-path="url(#cm)">
<path d="M441.62,8.6L446.51,33.86L451.64,59.94L456.85,86.02L459.11,96.61L459.83,100.68L461.31,110.46L461.67,112.09L461.93,112.91L462.68,114.54L463.11,116.17L463.44,118.61L463.65,121.06L463.88,125.13L464.05,130.02L464.27,144.69L464.37,169.14L464.38,337.82L464.24,393.23L464.09,410.35L463.84,424.2L463.63,431.53L463.35,438.05L463.04,442.94L462.64,447.02L462.11,450.28L461.66,451.91L460.85,454.35L460.47,455.98L460.07,458.42L459.45,463.31L457.96,477.17L457.2,483.69L456.33,490.21L455.23,497.54" fill="none" stroke="#ff0000" stroke-width="1.6" stroke-linejoin="round" />
<path d="M438.25,8.6L444.24,39.57L450.34,70.53L456.85,103.13L459,112.91L459.71,116.98L461.04,126.76L461.46,129.21L461.93,130.83L462.72,132.46L463.1,134.09L463.4,136.54L463.65,139.8L463.84,143.87L464.02,149.58L464.24,165.88L464.34,191.95L464.38,263.66L464.33,328.86L464.24,354.93L464.09,374.49L463.85,389.16L463.51,400.57L463.14,407.9L462.88,411.16L462.61,413.61L462.19,416.05L461.97,416.86L461.04,419.31L460.63,420.94L460.34,422.57L459.71,427.46L457.92,444.57L456.99,451.91L456.13,457.61L453.28,474.72L449.86,497.54" fill="none" stroke="#ff0000" stroke-width="1.6" stroke-linejoin="round" />
<path d="M434.87,8.6L441.64,43.64L448.54,78.68L454.75,109.65L456.81,120.24L458.5,127.58L459.16,130.83L459.89,135.72L460.95,144.69L461.3,147.13L461.64,148.76L461.94,149.58L462.44,150.39L462.76,151.21L462.95,152.02L463.18,153.65L463.41,156.1L463.65,160.17L463.98,170.77L464.2,188.69L464.3,216.4L464.32,270.18L464.23,314.19L464.1,336.19L463.89,353.3L463.57,366.34L463.18,375.3L462.81,380.19L462.36,383.45L462.17,384.27L461.89,385.08L461.14,386.71L460.91,387.53L460.58,389.16L460.34,390.79L459.79,395.68L458.18,411.98L457.6,416.86L457.04,420.94L456.37,425.01L454.7,433.98L453.72,439.68L450.32,461.68L444.58,497.54" fill="none" stroke="#ff0000" stroke-width="1.6" stroke-linejoin="round" />
<path d="M431.5,8.6L441.59,60.75L451.9,112.91L454.56,125.95L456.54,136.54L457.23,139.8L458.46,144.69L458.97,147.13L459.36,149.58L459.78,152.84L460.93,164.25L461.34,167.51L461.7,169.14L462.61,170.77L462.96,172.39L463.15,174.02L463.39,177.28L463.61,182.17L463.91,194.4L464.09,212.32L464.18,237.59L464.17,271L464.05,298.7L463.89,316.63L463.65,330.49L463.31,341.08L462.89,348.41L462.65,350.86L462.39,352.49L462.2,353.3L461.86,354.12L461.36,354.93L461.08,355.75L460.63,358.19L460.1,363.08L458.42,381.82L457.77,387.53L457.18,391.6L456.61,394.86L455.09,402.2L454.2,407.09L450.85,428.27L447.13,450.28L439.31,497.54" fill="none" stroke="#ff0000" stroke-width="1.6" stroke-linejoin="round" />
<path d="M428.12,8.6L435.03,44.46L442.17,81.13L452.13,131.65L454.47,143.06L456.66,155.28L457.21,157.73L458.33,161.8L458.84,164.25L459.31,167.51L459.75,171.58L460.91,186.25L461.33,190.32L461.63,191.95L462.56,193.58L462.85,195.21L463.02,196.84L463.27,200.92L463.45,205.81L463.72,219.66L463.84,234.33L463.88,251.44L463.83,269.37L463.71,284.85L463.54,297.07L463.31,306.85L463.01,314.19L462.65,319.08L462.42,320.71L462.24,321.52L461.31,323.15L460.97,324.78L460.76,326.41L460.31,331.3L459.24,345.97L458.64,353.3L458.05,359.01L457.38,363.9L456.76,367.16L455.41,372.86L454.61,376.93L451.4,397.31L447.77,417.68L434.03,497.54" fill="none" stroke="#ff0000" stroke-width="1.6" stroke-linejoin="round" />
<path d="M424.74,8.6L433.37,53.42L442.08,98.24L452.11,149.58L454.33,160.17L454.91,163.43L456.62,174.02L457.2,176.47L458.21,179.73L458.71,182.17L459.31,187.06L459.81,193.58L460.22,200.92L461,217.21L461.31,222.1L461.59,224.55L461.89,225.36L462.42,226.18L462.69,228.62L462.96,235.14L463.09,244.11L463.12,253.88L463.05,263.66L462.9,271.81L462.68,277.52L462.51,279.96L462.3,281.59L461.97,282.41L461.46,283.22L461.22,284.85L461.07,286.48L460.7,292.19L459.7,311.74L459.12,321.52L458.49,329.67L457.77,336.19L457.38,338.63L457.04,340.26L455.7,345.15L455.02,348.41L454.35,352.49L452.69,363.9L451.75,369.6L448.51,386.71L445.36,404.64L428.76,497.54" fill="none" stroke="#ff0000" stroke-width="1.6" stroke-linejoin="round" />
<path d="M421.37,8.6L436.73,88.46L449.87,156.1L451.98,167.51L454.11,177.28L454.79,181.36L456.08,191.14L456.6,194.4L457,196.03L457.93,198.47L458.16,199.29L458.47,200.92L458.78,203.36L459.07,206.62L459.33,210.7L459.59,216.4L459.96,229.44L460.13,244.11L460.13,253.88L460.02,264.48L459.8,275.07L459.5,284.85L459.13,293.81L458.73,301.15L458.22,307.67L457.73,311.74L457.28,314.19L457.06,315L455.93,318.26L455.39,320.71L454.76,324.78L453.16,337L452.13,343.52L449.14,358.19L445.95,376.12L442.29,395.68L423.49,497.54" fill="none" stroke="#ff0000" stroke-width="1.6" stroke-linejoin="round" />
<path d="M417.99,8.6L447.48,162.62L449.59,173.21L451.86,186.25L452.37,188.69L453.6,193.58L454.08,196.03L454.44,198.47L454.83,201.73L455.96,213.95L456.44,218.03L456.77,219.66L457.1,220.47L457.61,221.29L457.88,222.1L458.17,223.73L458.35,225.36L458.62,229.44L458.84,235.14L458.96,241.66L459.01,249L458.94,258.77L458.75,267.74L458.43,275.89L458.05,281.59L457.68,284.85L457.36,286.48L457.06,287.3L456.56,288.11L456.23,288.93L456.02,289.74L455.73,291.37L455.22,295.44L453.71,310.11L453.21,314.19L452.74,317.45L451.97,321.52L450.57,327.23L449.71,331.3L446.57,349.23L443.37,365.53L418.21,497.54" fill="none" stroke="#ff0000" stroke-width="1.6" stroke-linejoin="round" />
<path d="M414.62,8.6L434.18,111.28L445.14,169.14L447.38,181.36L449.38,191.14L450.07,195.21L451.21,203.36L451.74,206.62L452.31,209.07L453.33,212.32L453.66,213.95L454.01,216.4L454.33,219.66L454.62,223.73L454.87,228.62L455.23,240.03L455.31,250.63L455.25,256.33L455.09,262.85L454.84,269.37L454.47,276.7L454.04,283.22L453.64,288.11L453.2,292.19L452.73,295.44L452.22,297.89L450.96,301.96L450.39,304.41L449.67,308.48L448.04,319.08L447.02,324.78L444.12,338.63L440.68,356.56L412.94,497.54" fill="none" stroke="#ff0000" stroke-width="1.6" stroke-linejoin="round" />
<path d="M411.24,8.6L422.1,65.64L433.14,124.32L442.84,176.47L444.87,187.06L447.09,200.1L447.58,202.55L448.74,207.44L449.21,209.88L449.58,212.32L449.96,215.58L451.14,228.62L451.51,231.88L451.81,233.51L452.07,234.33L452.59,235.14L452.91,235.96L453.08,236.77L453.29,238.4L453.47,240.85L453.6,244.11L453.67,252.26L453.58,257.14L453.4,262.03L453.13,266.11L452.88,268.55L452.63,270.18L452.42,271L452.06,271.81L451.54,272.63L451.26,273.44L450.93,275.07L450.37,279.15L448.69,293.81L448.12,297.89L447.56,301.15L447.05,303.59L445.63,309.3L444.91,312.56L441.53,330.49L438.67,344.34L425.86,407.9L407.67,497.54" fill="none" stroke="#ff0000" stroke-width="1.6" stroke-linejoin="round" />
<path d="M407.87,8.6L415.93,50.97L424.03,94.16L435.48,156.1L440.41,182.99L442.57,195.21L444.5,204.99L445.16,209.07L446.34,218.03L446.84,221.29L447.18,222.92L448.22,226.18L448.6,227.81L448.85,229.44L449.11,231.88L449.47,237.59L449.65,244.11L449.66,251.44L449.47,259.59L449.04,267.74L448.49,274.26L448.19,276.7L447.81,279.15L447.23,281.59L446.11,284.85L445.52,287.3L444.93,290.56L443.23,301.15L442.16,306.85L439.47,319.08L436.01,336.19L425.03,389.16L402.39,497.54" fill="none" stroke="#ff0000" stroke-width="1.6" stroke-linejoin="round" />
<path d="M404.49,8.6L413.14,54.23L421.64,99.87L429.39,142.24L439.82,200.1L440.52,204.18L442.19,214.77L442.69,217.21L443.68,221.29L444.16,223.73L444.5,226.18L444.76,228.62L445.28,235.96L445.6,244.92L445.62,252.26L445.52,256.33L445.32,260.4L445,265.29L444.6,270.18L443.73,278.33L443.27,281.59L442.69,284.85L442.13,287.3L441.01,291.37L440.23,294.63L436.71,312.56L434.06,324.78L415.88,410.35L397.12,497.54" fill="none" stroke="#ff0000" stroke-width="1.6" stroke-linejoin="round" />
<path d="M401.11,8.6L410.05,55.86L418.77,103.13L429.6,163.43L435.49,196.84L437.68,209.88L439.44,218.84L439.95,222.1L440.35,225.36L441.43,236.77L441.84,240.03L442.22,241.66L443.05,243.29L443.35,244.92L443.57,248.18L443.58,253.07L443.35,257.96L443,261.22L442.66,262.85L442.32,263.66L441.78,264.48L441.47,265.29L441.09,266.92L440.56,270.18L438.83,282.41L438.15,286.48L437.51,289.74L434.83,301.15L431.23,318.26L417.04,383.45L404.86,438.87L391.85,497.54" fill="none" stroke="#ff0000" stroke-width="1.6" stroke-linejoin="round" />
<path d="M397.74,8.6L407.41,59.94L416.77,111.28L424.43,154.47L430.65,190.32L433.12,204.99L434.88,214.77L435.52,218.84L436.68,227.81L437.19,231.07L437.54,232.7L438.53,235.96L438.85,237.59L439.21,240.85L439.39,244.11L439.47,248.18L439.43,252.26L439.25,257.14L438.91,262.03L438.46,266.11L437.9,269.37L437.48,271L436.34,274.26L435.7,276.7L435.05,279.96L433.27,289.74L432.08,295.44L429.46,306.85L420.1,349.23L408.97,398.94L398.1,447.02L386.57,497.54" fill="none" stroke="#ff0000" stroke-width="1.6" stroke-linejoin="round" />
<path d="M394.36,8.6L399,33.05L403.71,58.31L408.32,83.57L412.86,108.83L418.73,142.24L424.74,177.28L430.52,211.51L432.5,224.55L432.96,226.99L433.9,231.07L434.21,232.7L434.73,236.77L435.05,241.66L435.19,246.55L435.15,252.26L434.89,257.96L434.34,264.48L433.61,270.18L432.84,274.26L432.23,276.7L431.06,280.78L430.45,283.22L426.81,300.33L410.67,371.23L396.55,432.35L381.3,497.54" fill="none" stroke="#ff0000" stroke-width="1.6" stroke-linejoin="round" />
<path d="M487.18,8.6L482.29,33.86L477.16,59.94L471.95,86.02L469.69,96.61L468.97,100.68L467.49,110.46L467.13,112.09L466.87,112.91L466.12,114.54L465.69,116.17L465.36,118.61L465.15,121.06L464.92,125.13L464.75,130.02L464.53,144.69L464.43,169.14L464.42,337.82L464.56,393.23L464.71,410.35L464.96,424.2L465.17,431.53L465.45,438.05L465.76,442.94L466.16,447.02L466.69,450.28L467.14,451.91L467.95,454.35L468.33,455.98L468.73,458.42L469.35,463.31L470.84,477.17L471.6,483.69L472.47,490.21L473.57,497.54" fill="none" stroke="#000" stroke-width="1.6" stroke-linejoin="round" />
<path d="M490.55,8.6L484.56,39.57L478.46,70.53L471.95,103.13L469.8,112.91L469.09,116.98L467.76,126.76L467.34,129.21L466.87,130.83L466.08,132.46L465.7,134.09L465.4,136.54L465.15,139.8L464.96,143.87L464.78,149.58L464.56,165.88L464.46,191.95L464.42,263.66L464.47,328.86L464.56,354.93L464.71,374.49L464.95,389.16L465.29,400.57L465.66,407.9L465.92,411.16L466.19,413.61L466.61,416.05L466.83,416.86L467.76,419.31L468.17,420.94L468.46,422.57L469.09,427.46L470.88,444.57L471.81,451.91L472.67,457.61L475.52,474.72L478.94,497.54" fill="none" stroke="#000" stroke-width="1.6" stroke-linejoin="round" />
<path d="M493.93,8.6L487.16,43.64L480.26,78.68L474.05,109.65L471.99,120.24L470.3,127.58L469.64,130.83L468.91,135.72L467.85,144.69L467.5,147.13L467.16,148.76L466.86,149.58L466.36,150.39L466.04,151.21L465.85,152.02L465.62,153.65L465.39,156.1L465.15,160.17L464.82,170.77L464.6,188.69L464.5,216.4L464.48,270.18L464.57,314.19L464.7,336.19L464.91,353.3L465.23,366.34L465.62,375.3L465.99,380.19L466.44,383.45L466.63,384.27L466.91,385.08L467.66,386.71L467.89,387.53L468.22,389.16L468.46,390.79L469.01,395.68L470.62,411.98L471.2,416.86L471.76,420.94L472.43,425.01L474.1,433.98L475.08,439.68L478.48,461.68L484.22,497.54" fill="none" stroke="#000" stroke-width="1.6" stroke-linejoin="round" />
<path d="M497.3,8.6L487.21,60.75L476.9,112.91L474.24,125.95L472.26,136.54L471.57,139.8L470.34,144.69L469.83,147.13L469.44,149.58L469.02,152.84L467.87,164.25L467.46,167.51L467.1,169.14L466.19,170.77L465.84,172.39L465.65,174.02L465.41,177.28L465.19,182.17L464.89,194.4L464.71,212.32L464.62,237.59L464.63,271L464.75,298.7L464.91,316.63L465.15,330.49L465.49,341.08L465.91,348.41L466.15,350.86L466.41,352.49L466.6,353.3L466.94,354.12L467.44,354.93L467.72,355.75L468.17,358.19L468.7,363.08L470.38,381.82L471.03,387.53L471.62,391.6L472.19,394.86L473.71,402.2L474.6,407.09L477.95,428.27L481.67,450.28L489.49,497.54" fill="none" stroke="#000" stroke-width="1.6" stroke-linejoin="round" />
<path d="M500.68,8.6L493.77,44.46L486.63,81.13L476.67,131.65L474.33,143.06L472.14,155.28L471.59,157.73L470.47,161.8L469.96,164.25L469.49,167.51L469.05,171.58L467.89,186.25L467.47,190.32L467.17,191.95L466.24,193.58L465.95,195.21L465.78,196.84L465.53,200.92L465.35,205.81L465.08,219.66L464.96,234.33L464.92,251.44L464.97,269.37L465.09,284.85L465.26,297.07L465.49,306.85L465.79,314.19L466.15,319.08L466.38,320.71L466.56,321.52L467.49,323.15L467.83,324.78L468.04,326.41L468.49,331.3L469.56,345.97L470.16,353.3L470.75,359.01L471.42,363.9L472.04,367.16L473.39,372.86L474.19,376.93L477.4,397.31L481.03,417.68L494.77,497.54" fill="none" stroke="#000" stroke-width="1.6" stroke-linejoin="round" />
<path d="M504.06,8.6L495.43,53.42L486.72,98.24L476.69,149.58L474.47,160.17L473.89,163.43L472.18,174.02L471.6,176.47L470.59,179.73L470.09,182.17L469.49,187.06L468.99,193.58L468.58,200.92L467.8,217.21L467.49,222.1L467.21,224.55L466.91,225.36L466.38,226.18L466.11,228.62L465.84,235.14L465.71,244.11L465.68,253.88L465.75,263.66L465.9,271.81L466.12,277.52L466.29,279.96L466.5,281.59L466.83,282.41L467.34,283.22L467.58,284.85L467.73,286.48L468.1,292.19L469.1,311.74L469.68,321.52L470.31,329.67L471.03,336.19L471.42,338.63L471.76,340.26L473.1,345.15L473.78,348.41L474.45,352.49L476.11,363.9L477.05,369.6L480.29,386.71L483.44,404.64L500.04,497.54" fill="none" stroke="#000" stroke-width="1.6" stroke-linejoin="round" />
<path d="M507.43,8.6L492.07,88.46L478.93,156.1L476.82,167.51L474.69,177.28L474.01,181.36L472.72,191.14L472.2,194.4L471.8,196.03L470.87,198.47L470.64,199.29L470.33,200.92L470.02,203.36L469.73,206.62L469.47,210.7L469.21,216.4L468.84,229.44L468.67,244.11L468.67,253.88L468.78,264.48L469,275.07L469.3,284.85L469.67,293.81L470.07,301.15L470.58,307.67L471.07,311.74L471.52,314.19L471.74,315L472.87,318.26L473.41,320.71L474.04,324.78L475.64,337L476.67,343.52L479.66,358.19L482.85,376.12L486.51,395.68L505.31,497.54" fill="none" stroke="#000" stroke-width="1.6" stroke-linejoin="round" />
<path d="M510.81,8.6L481.32,162.62L479.21,173.21L476.94,186.25L476.43,188.69L475.2,193.58L474.72,196.03L474.36,198.47L473.97,201.73L472.84,213.95L472.36,218.03L472.03,219.66L471.7,220.47L471.19,221.29L470.92,222.1L470.63,223.73L470.45,225.36L470.18,229.44L469.96,235.14L469.84,241.66L469.79,249L469.86,258.77L470.05,267.74L470.37,275.89L470.75,281.59L471.12,284.85L471.44,286.48L471.74,287.3L472.24,288.11L472.57,288.93L472.78,289.74L473.07,291.37L473.58,295.44L475.09,310.11L475.59,314.19L476.06,317.45L476.83,321.52L478.23,327.23L479.09,331.3L482.23,349.23L485.43,365.53L510.59,497.54" fill="none" stroke="#000" stroke-width="1.6" stroke-linejoin="round" />
<path d="M514.18,8.6L494.62,111.28L483.66,169.14L481.42,181.36L479.42,191.14L478.73,195.21L477.59,203.36L477.06,206.62L476.49,209.07L475.47,212.32L475.14,213.95L474.79,216.4L474.47,219.66L474.18,223.73L473.93,228.62L473.57,240.03L473.49,250.63L473.55,256.33L473.71,262.85L473.96,269.37L474.33,276.7L474.76,283.22L475.16,288.11L475.6,292.19L476.07,295.44L476.58,297.89L477.84,301.96L478.41,304.41L479.13,308.48L480.76,319.08L481.78,324.78L484.68,338.63L488.12,356.56L515.86,497.54" fill="none" stroke="#000" stroke-width="1.6" stroke-linejoin="round" />
<path d="M517.56,8.6L506.7,65.64L495.66,124.32L485.96,176.47L483.93,187.06L481.71,200.1L481.22,202.55L480.06,207.44L479.59,209.88L479.22,212.32L478.84,215.58L477.66,228.62L477.29,231.88L476.99,233.51L476.73,234.33L476.21,235.14L475.89,235.96L475.72,236.77L475.51,238.4L475.33,240.85L475.2,244.11L475.13,252.26L475.22,257.14L475.4,262.03L475.67,266.11L475.92,268.55L476.17,270.18L476.38,271L476.74,271.81L477.26,272.63L477.54,273.44L477.87,275.07L478.43,279.15L480.11,293.81L480.68,297.89L481.24,301.15L481.75,303.59L483.17,309.3L483.89,312.56L487.27,330.49L490.13,344.34L502.94,407.9L521.13,497.54" fill="none" stroke="#000" stroke-width="1.6" stroke-linejoin="round" />
<path d="M520.93,8.6L512.87,50.97L504.77,94.16L493.32,156.1L488.39,182.99L486.23,195.21L484.3,204.99L483.64,209.07L482.46,218.03L481.96,221.29L481.62,222.92L480.58,226.18L480.2,227.81L479.95,229.44L479.69,231.88L479.33,237.59L479.15,244.11L479.14,251.44L479.33,259.59L479.76,267.74L480.31,274.26L480.61,276.7L480.99,279.15L481.57,281.59L482.69,284.85L483.28,287.3L483.87,290.56L485.57,301.15L486.64,306.85L489.33,319.08L492.79,336.19L503.77,389.16L526.41,497.54" fill="none" stroke="#000" stroke-width="1.6" stroke-linejoin="round" />
<path d="M524.31,8.6L515.66,54.23L507.16,99.87L499.41,142.24L488.98,200.1L488.28,204.18L486.61,214.77L486.11,217.21L485.12,221.29L484.64,223.73L484.3,226.18L484.04,228.62L483.52,235.96L483.2,244.92L483.18,252.26L483.28,256.33L483.48,260.4L483.8,265.29L484.2,270.18L485.07,278.33L485.53,281.59L486.11,284.85L486.67,287.3L487.79,291.37L488.57,294.63L492.09,312.56L494.74,324.78L512.92,410.35L531.68,497.54" fill="none" stroke="#000" stroke-width="1.6" stroke-linejoin="round" />
<path d="M527.69,8.6L518.75,55.86L510.03,103.13L499.2,163.43L493.31,196.84L491.12,209.88L489.36,218.84L488.85,222.1L488.45,225.36L487.37,236.77L486.96,240.03L486.58,241.66L485.75,243.29L485.45,244.92L485.23,248.18L485.22,253.07L485.45,257.96L485.8,261.22L486.14,262.85L486.48,263.66L487.02,264.48L487.33,265.29L487.71,266.92L488.24,270.18L489.97,282.41L490.65,286.48L491.29,289.74L493.97,301.15L497.57,318.26L511.76,383.45L523.94,438.87L536.95,497.54" fill="none" stroke="#000" stroke-width="1.6" stroke-linejoin="round" />
<path d="M531.06,8.6L521.39,59.94L512.03,111.28L504.37,154.47L498.15,190.32L495.68,204.99L493.92,214.77L493.28,218.84L492.12,227.81L491.61,231.07L491.26,232.7L490.27,235.96L489.95,237.59L489.59,240.85L489.41,244.11L489.33,248.18L489.37,252.26L489.55,257.14L489.89,262.03L490.34,266.11L490.9,269.37L491.32,271L492.46,274.26L493.1,276.7L493.75,279.96L495.53,289.74L496.72,295.44L499.34,306.85L508.7,349.23L519.83,398.94L530.7,447.02L542.23,497.54" fill="none" stroke="#000" stroke-width="1.6" stroke-linejoin="round" />
<path d="M534.44,8.6L529.8,33.05L525.09,58.31L520.48,83.57L515.94,108.83L510.07,142.24L504.06,177.28L498.28,211.51L496.3,224.55L495.84,226.99L494.9,231.07L494.59,232.7L494.07,236.77L493.75,241.66L493.61,246.55L493.65,252.26L493.91,257.96L494.46,264.48L495.19,270.18L495.96,274.26L496.57,276.7L497.74,280.78L498.35,283.22L501.99,300.33L518.13,371.23L532.25,432.35L547.5,497.54" fill="none" stroke="#000" stroke-width="1.6" stroke-linejoin="round" />
</g>
<line x1="363.5" y1="8.6" x2="564.2" y2="8.6" stroke="#000" stroke-width="1.7" stroke-dasharray="6.8 1.95"/>
<line x1="363.5" y1="212.32" x2="564.2" y2="212.32" stroke="#000" stroke-width="1.7" stroke-dasharray="6.8 1.95"/>
<line x1="363.5" y1="253.07" x2="564.2" y2="253.07" stroke="#000" stroke-width="1.7" stroke-dasharray="6.8 1.95"/>
<line x1="363.5" y1="334.56" x2="564.2" y2="334.56" stroke="#000" stroke-width="1.7" stroke-dasharray="6.8 1.95"/>
<line x1="363.5" y1="497.54" x2="564.2" y2="497.54" stroke="#000" stroke-width="1.7" stroke-dasharray="6.8 1.95"/>
<line x1="363.7" y1="0" x2="363.7" y2="506.05" stroke="#000" stroke-width="1.1" />
<line x1="565.7" y1="0" x2="565.7" y2="506.05" stroke="#000" stroke-width="1.1" />
<line x1="363.1" y1="0.4" x2="566.3" y2="0.4" stroke="#000" stroke-width="1.05" />
<line x1="363.7" y1="505.5" x2="565.7" y2="505.5" stroke="#000" stroke-width="1.1" />
<line x1="357.1" y1="8.6" x2="363.7" y2="8.6" stroke="#000" stroke-width="1.1" />
<line x1="359.9" y1="49.35" x2="363.7" y2="49.35" stroke="#000" stroke-width="1.1" />
<line x1="357.1" y1="90.09" x2="363.7" y2="90.09" stroke="#000" stroke-width="1.1" />
<line x1="359.9" y1="130.84" x2="363.7" y2="130.84" stroke="#000" stroke-width="1.1" />
<line x1="357.1" y1="171.58" x2="363.7" y2="171.58" stroke="#000" stroke-width="1.1" />
<line x1="359.9" y1="212.32" x2="363.7" y2="212.32" stroke="#000" stroke-width="1.1" />
<line x1="357.1" y1="253.07" x2="363.7" y2="253.07" stroke="#000" stroke-width="1.1" />
<line x1="359.9" y1="293.82" x2="363.7" y2="293.82" stroke="#000" stroke-width="1.1" />
<line x1="357.1" y1="334.56" x2="363.7" y2="334.56" stroke="#000" stroke-width="1.1" />
<line x1="359.9" y1="375.31" x2="363.7" y2="375.31" stroke="#000" stroke-width="1.1" />
<line x1="357.1" y1="416.05" x2="363.7" y2="416.05" stroke="#000" stroke-width="1.1" />
<line x1="359.9" y1="456.8" x2="363.7" y2="456.8" stroke="#000" stroke-width="1.1" />
<line x1="357.1" y1="497.54" x2="363.7" y2="497.54" stroke="#000" stroke-width="1.1" />
<line x1="370.8" y1="505.5" x2="370.8" y2="512.4" stroke="#000" stroke-width="1.1" />
<line x1="386.4" y1="505.5" x2="386.4" y2="509.5" stroke="#000" stroke-width="1.1" />
<line x1="402" y1="505.5" x2="402" y2="512.4" stroke="#000" stroke-width="1.1" />
<line x1="417.6" y1="505.5" x2="417.6" y2="509.5" stroke="#000" stroke-width="1.1" />
<line x1="433.2" y1="505.5" x2="433.2" y2="512.4" stroke="#000" stroke-width="1.1" />
<line x1="448.8" y1="505.5" x2="448.8" y2="509.5" stroke="#000" stroke-width="1.1" />
<line x1="464.4" y1="505.5" x2="464.4" y2="512.4" stroke="#000" stroke-width="1.1" />
<line x1="480" y1="505.5" x2="480" y2="509.5" stroke="#000" stroke-width="1.1" />
<line x1="495.6" y1="505.5" x2="495.6" y2="512.4" stroke="#000" stroke-width="1.1" />
<line x1="511.2" y1="505.5" x2="511.2" y2="509.5" stroke="#000" stroke-width="1.1" />
<line x1="526.8" y1="505.5" x2="526.8" y2="512.4" stroke="#000" stroke-width="1.1" />
<line x1="542.4" y1="505.5" x2="542.4" y2="509.5" stroke="#000" stroke-width="1.1" />
<line x1="558" y1="505.5" x2="558" y2="512.4" stroke="#000" stroke-width="1.1" />
<g opacity="0.999" fill="#000">
<text x="64.6" y="18.2" font-size="16.6" text-anchor="start" font-weight="normal" font-family="Liberation Serif, serif" >(a)</text>
<text x="64.6" y="119.9" font-size="16.6" text-anchor="start" font-weight="normal" font-family="Liberation Serif, serif" >(b)</text>
<text x="64.6" y="221.25" font-size="16.6" text-anchor="start" font-weight="normal" font-family="Liberation Serif, serif" >(c)</text>
<text x="64.6" y="321.8" font-size="16.6" text-anchor="start" font-weight="normal" font-family="Liberation Serif, serif" >(d)</text>
<text x="64.6" y="423.9" font-size="16.6" text-anchor="start" font-weight="normal" font-family="Liberation Serif, serif" >(e)</text>
<text x="50.6" y="510" font-size="15.2" text-anchor="end" font-weight="normal" font-family="Liberation Serif, serif" >0.0</text>
<text x="50.6" y="481.24" font-size="15.2" text-anchor="end" font-weight="normal" font-family="Liberation Serif, serif" >0.4</text>
<text x="50.6" y="452.48" font-size="15.2" text-anchor="end" font-weight="normal" font-family="Liberation Serif, serif" >0.8</text>
<text x="50.6" y="423.72" font-size="15.2" text-anchor="end" font-weight="normal" font-family="Liberation Serif, serif" >1.2</text>
<text x="60.3" y="527" font-size="15.2" text-anchor="middle" font-weight="normal" font-family="Liberation Serif, serif" >-6</text>
<text x="93.98" y="527" font-size="15.2" text-anchor="middle" font-weight="normal" font-family="Liberation Serif, serif" >-4</text>
<text x="127.67" y="527" font-size="15.2" text-anchor="middle" font-weight="normal" font-family="Liberation Serif, serif" >-2</text>
<text x="161.35" y="527" font-size="15.2" text-anchor="middle" font-weight="normal" font-family="Liberation Serif, serif" >0</text>
<text x="195.03" y="527" font-size="15.2" text-anchor="middle" font-weight="normal" font-family="Liberation Serif, serif" >2</text>
<text x="228.72" y="527" font-size="15.2" text-anchor="middle" font-weight="normal" font-family="Liberation Serif, serif" >4</text>
<text x="262.4" y="527" font-size="15.2" text-anchor="middle" font-weight="normal" font-family="Liberation Serif, serif" >6</text>
<text x="161.5" y="554.2" font-size="22" text-anchor="middle" font-weight="bold" font-family="Liberation Serif, serif" >x</text>
<text transform="translate(12.7,454.6) rotate(-90)" font-size="18" text-anchor="middle" font-family="Liberation Serif, serif">&#961;(<tspan font-weight="bold">x,t</tspan>)</text>
<text x="672.4" y="17.2" font-size="16.2" text-anchor="start" font-weight="bold" font-family="Liberation Serif, serif" >(a)</text>
<text x="672.4" y="119.5" font-size="16.2" text-anchor="start" font-weight="bold" font-family="Liberation Serif, serif" >(b)</text>
<text x="672.4" y="221.65" font-size="16.2" text-anchor="start" font-weight="bold" font-family="Liberation Serif, serif" >(c)</text>
<text x="672.4" y="323.3" font-size="16.2" text-anchor="start" font-weight="bold" font-family="Liberation Serif, serif" >(d)</text>
<text x="672.4" y="424.1" font-size="16.2" text-anchor="start" font-weight="bold" font-family="Liberation Serif, serif" >(e)</text>
<text x="657" y="510" font-size="15.2" text-anchor="end" font-weight="normal" font-family="Liberation Serif, serif" >0.0</text>
<text x="657" y="487.54" font-size="15.2" text-anchor="end" font-weight="normal" font-family="Liberation Serif, serif" >0.2</text>
<text x="657" y="465.08" font-size="15.2" text-anchor="end" font-weight="normal" font-family="Liberation Serif, serif" >0.4</text>
<text x="657" y="442.62" font-size="15.2" text-anchor="end" font-weight="normal" font-family="Liberation Serif, serif" >0.6</text>
<text x="657" y="420.16" font-size="15.2" text-anchor="end" font-weight="normal" font-family="Liberation Serif, serif" >0.8</text>
<text x="666.8" y="527" font-size="15.2" text-anchor="middle" font-weight="normal" font-family="Liberation Serif, serif" >-6</text>
<text x="700.45" y="527" font-size="15.2" text-anchor="middle" font-weight="normal" font-family="Liberation Serif, serif" >-4</text>
<text x="734.1" y="527" font-size="15.2" text-anchor="middle" font-weight="normal" font-family="Liberation Serif, serif" >-2</text>
<text x="767.75" y="527" font-size="15.2" text-anchor="middle" font-weight="normal" font-family="Liberation Serif, serif" >0</text>
<text x="801.4" y="527" font-size="15.2" text-anchor="middle" font-weight="normal" font-family="Liberation Serif, serif" >2</text>
<text x="835.05" y="527" font-size="15.2" text-anchor="middle" font-weight="normal" font-family="Liberation Serif, serif" >4</text>
<text x="868.7" y="527" font-size="15.2" text-anchor="middle" font-weight="normal" font-family="Liberation Serif, serif" >6</text>
<text x="769.4" y="554.2" font-size="21.5" text-anchor="middle" font-weight="bold" font-family="Liberation Serif, serif" >x</text>
<text transform="translate(617.8,454.6) rotate(-90)" font-size="18" text-anchor="middle" font-family="Liberation Serif, serif">&#961;(<tspan font-weight="bold">x,t</tspan>)</text>
<text transform="translate(353.1,13.7) scale(0.95,1)" font-size="18.3" text-anchor="end" font-family="Liberation Serif, serif">0.0</text>
<text transform="translate(353.1,95.19) scale(0.95,1)" font-size="18.3" text-anchor="end" font-family="Liberation Serif, serif">0.1</text>
<text transform="translate(353.1,176.68) scale(0.95,1)" font-size="18.3" text-anchor="end" font-family="Liberation Serif, serif">0.2</text>
<text transform="translate(353.1,258.17) scale(0.95,1)" font-size="18.3" text-anchor="end" font-family="Liberation Serif, serif">0.3</text>
<text transform="translate(353.1,339.66) scale(0.95,1)" font-size="18.3" text-anchor="end" font-family="Liberation Serif, serif">0.4</text>
<text transform="translate(353.1,421.15) scale(0.95,1)" font-size="18.3" text-anchor="end" font-family="Liberation Serif, serif">0.5</text>
<text transform="translate(353.1,502.64) scale(0.95,1)" font-size="18.3" text-anchor="end" font-family="Liberation Serif, serif">0.6</text>
<text transform="translate(370.8,528.9) scale(0.95,1)" font-size="18.3" text-anchor="middle" font-family="Liberation Serif, serif">-6</text>
<text transform="translate(402,528.9) scale(0.95,1)" font-size="18.3" text-anchor="middle" font-family="Liberation Serif, serif">-4</text>
<text transform="translate(433.2,528.9) scale(0.95,1)" font-size="18.3" text-anchor="middle" font-family="Liberation Serif, serif">-2</text>
<text transform="translate(464.4,528.9) scale(0.95,1)" font-size="18.3" text-anchor="middle" font-family="Liberation Serif, serif">0</text>
<text transform="translate(495.6,528.9) scale(0.95,1)" font-size="18.3" text-anchor="middle" font-family="Liberation Serif, serif">2</text>
<text transform="translate(526.8,528.9) scale(0.95,1)" font-size="18.3" text-anchor="middle" font-family="Liberation Serif, serif">4</text>
<text transform="translate(558,528.9) scale(0.95,1)" font-size="18.3" text-anchor="middle" font-family="Liberation Serif, serif">6</text>
<text x="369.1" y="24.5" font-size="16.6" text-anchor="start" font-weight="normal" font-family="Liberation Serif, serif" >(a)</text>
<text x="369.1" y="228" font-size="16.6" text-anchor="start" font-weight="normal" font-family="Liberation Serif, serif" >(b)</text>
<text x="369.1" y="269" font-size="16.6" text-anchor="start" font-weight="normal" font-family="Liberation Serif, serif" >(c)</text>
<text x="369.1" y="351.2" font-size="16.6" text-anchor="start" font-weight="normal" font-family="Liberation Serif, serif" >(d)</text>
<text x="369.1" y="487.2" font-size="16.6" text-anchor="start" font-weight="normal" font-family="Liberation Serif, serif" >(e)</text>
<text x="464.3" y="555.9" font-size="26.5" text-anchor="middle" font-weight="bold" font-family="Liberation Serif, serif" >x</text>
<text transform="translate(314.3,254.8) rotate(-90)" font-size="28" text-anchor="middle" font-family="Liberation Serif, serif">t</text>
</g>
</svg>
</body></html>
